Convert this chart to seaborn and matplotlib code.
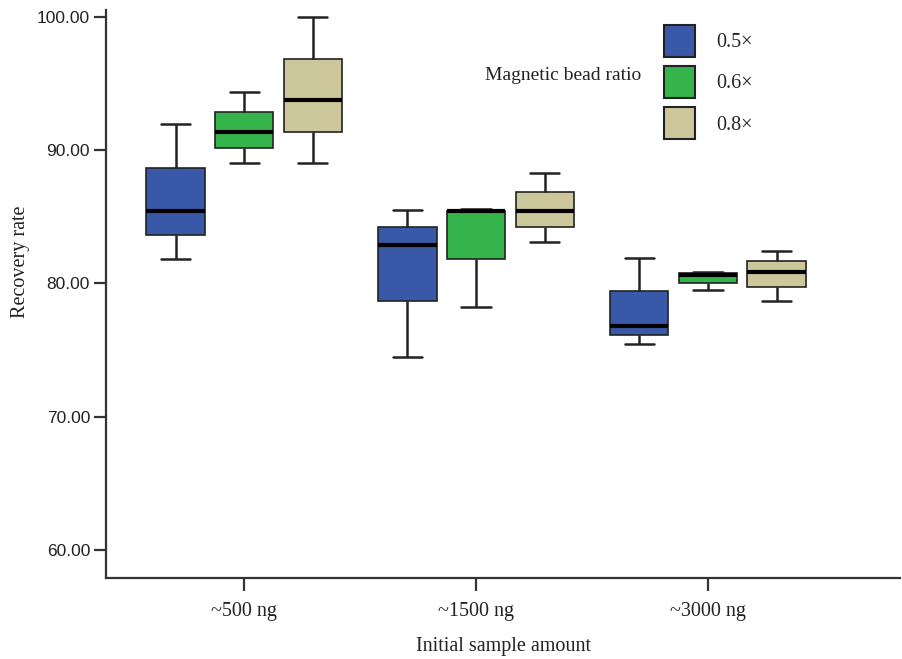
import numpy as np
import pandas as pd
import matplotlib
matplotlib.use("Agg")
import matplotlib.pyplot as plt
import seaborn as sns
from matplotlib.patches import Patch

categories = ["~500 ng", "~1500 ng", "~3000 ng"]
ratios = ["0.5×", "0.6×", "0.8×"]

# five-number summaries (min, Q1, median, Q3, max)
blue_500 = [81.85, 83.6, 85.42, 88.67, 92.0]
green_500 = [89.0, 90.2, 91.4, 92.85, 94.35]
tan_500 = [89.0, 91.4, 93.8, 96.85, 100.0]
blue_1500 = [74.5, 78.7, 82.9, 84.2, 85.5]
green_1500 = [78.2, 81.85, 85.4, 85.45, 85.6]
tan_1500 = [83.1, 84.25, 85.4, 86.85, 88.3]
blue_3000 = [75.45, 76.1, 76.8, 79.4, 81.9]
green_3000 = [79.5, 80.05, 80.6, 80.75, 80.85]
tan_3000 = [78.7, 79.75, 80.85, 81.65, 82.45]

yticks = [60, 70, 80, 90, 100]

groups = {
    ("~500 ng", "0.5×"): blue_500, ("~500 ng", "0.6×"): green_500, ("~500 ng", "0.8×"): tan_500,
    ("~1500 ng", "0.5×"): blue_1500, ("~1500 ng", "0.6×"): green_1500, ("~1500 ng", "0.8×"): tan_1500,
    ("~3000 ng", "0.5×"): blue_3000, ("~3000 ng", "0.6×"): green_3000, ("~3000 ng", "0.8×"): tan_3000,
}
rows = []
for (c, r), vals in groups.items():
    for v in vals:
        rows.append({"amount": c, "ratio": r, "rate": v})
df = pd.DataFrame(rows)

sns.set_style("white")
plt.rcParams["font.family"] = ["Liberation Serif", "DejaVu Serif"]

palette = {"0.5×": "#3a58a8", "0.6×": "#34b44b", "0.8×": "#cdc79c"}

fig = plt.figure(figsize=(9.02, 6.59), dpi=100)
ax = fig.add_axes([0.1175, 0.1229, 0.8805, 0.862])

sns.boxplot(data=df, x="amount", y="rate", hue="ratio", order=categories,
            hue_order=ratios, palette=palette, whis=(0, 100), width=0.888,
            gap=0.15, saturation=1, linecolor="#222222", linewidth=1.2,
            medianprops={"color": "black", "linewidth": 3},
            whiskerprops={"color": "#222222", "linewidth": 1.8},
            capprops={"color": "#222222", "linewidth": 1.8},
            legend=False, ax=ax)

ax.set_xlim(-0.596, 2.829)
ax.set_ylim(57.9, 100.52)
ax.set_yticks(yticks)
ax.set_yticklabels([f"{t:.2f}" for t in yticks])
for s in ["top", "right"]:
    ax.spines[s].set_visible(False)
for s in ["left", "bottom"]:
    ax.spines[s].set_color("#333333")
    ax.spines[s].set_linewidth(1.6)
ax.tick_params(axis="y", left=True, direction="out", length=9, width=1.6, color="#333333",
               labelsize=12.5, labelcolor="#222222", pad=2.5,
               labelfontfamily="Liberation Sans")
ax.tick_params(axis="x", bottom=True, direction="out", length=9, width=1.6, color="#333333",
               labelsize=14.5, labelcolor="#222222", pad=8.5)
ax.set_xlabel("Initial sample amount", fontsize=14.5, labelpad=11, color="#222222")
ax.set_ylabel("Recovery rate", fontsize=14.5, color="#222222")
ax.yaxis.set_label_coords(-0.0957, 0.556)

handles = [Patch(facecolor=palette[r], edgecolor="#222222", linewidth=1.5) for r in ratios]
leg = fig.legend(handles, ratios, loc="upper left", bbox_to_anchor=(0.7361, 0.9621),
                 frameon=False, fontsize=14.5, handlelength=1.54, handleheight=2.07,
                 labelspacing=0.45, handletextpad=1.04, borderpad=0, borderaxespad=0)
fig.text(0.5377, 0.8847, "Magnetic bead ratio", fontsize=14, ha="left", va="center",
         color="#222222")

fig.savefig("out.png", dpi=100)
